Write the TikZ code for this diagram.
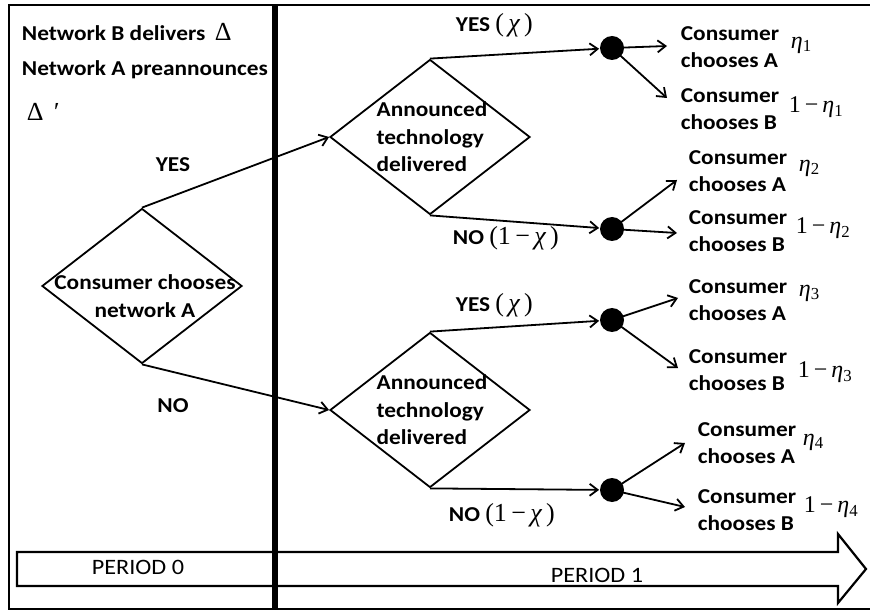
\documentclass[tikz,border=0pt]{standalone}
\usepackage{fontspec}
\setmainfont{Carlito}[FakeStretch=1.1]
\newfontfamily\mathserif{Liberation Serif}
\usetikzlibrary{shapes.geometric,arrows.meta}
\newcommand{\gchi}{{\itshape χ}}
\newcommand{\geta}[1]{{\mathserif\mdseries\itshape η}\textsubscript{\mathserif\mdseries #1}}
\newcommand{\mth}{\mathserif\mdseries\fontsize{26}{26}\selectfont}
\begin{document}
\begin{tikzpicture}[x=1pt,y=-1pt,
 line width=1.8pt,
 dia/.style={draw, diamond, minimum width=200pt, minimum height=155pt, inner sep=0pt, line width=1.8pt},
 dot/.style={circle, fill=black, minimum size=24pt, inner sep=0pt},
 txt/.style={font=\fontsize{21.2}{27.5}\selectfont\bfseries, inner sep=0pt, align=left},
 prob/.style={font=\mathserif\fontsize{24}{26}\selectfont, inner sep=0pt, anchor=west},
 per/.style={font=\fontsize{22}{24}\selectfont, inner sep=0pt},
 arr/.style={-{Straight Barb[length=8pt,width=12pt,line width=1.8pt]}, line width=1.8pt},
]
\useasboundingbox (0,0) rectangle (870,612);
% frame
\draw[line width=2.2pt] (872,5) -- (9,5) -- (9,609) -- (872,609);
% period arrow
\draw[line width=2.2pt, fill=white, line join=miter] (17,552) -- (838,552) -- (838,534) -- (866,569) -- (838,603) -- (838,586) -- (17,586) -- cycle;
\node[per] (p0) at (138,567) {PERIOD 0};
\node[per] (p1l) at (597,575) {PERIOD 1};
% divider
\draw[line width=6pt] (275,5) -- (275,609);
% left texts
\node[txt, anchor=west] (nb) at (21,32) {Network B delivers {\mth\,Δ}};
\node[txt, anchor=west] (na) at (21,70) {Network A preannounces};
\node[txt, anchor=west] (dp) at (26,112) {\mth Δ\,\,\itshape ′};
\node[txt] (yes0) at (173,165) {YES};
\node[txt] (no0) at (173,406) {NO};
% diamonds
\node[dia] (d1) at (142,286) {};
\node[txt, align=center] (d1t) at (145,296) {Consumer chooses\\network A};
\node[dia] (d2) at (430,137) {};
\node[txt] (d2t) at (432,137) {Announced\\technology\\delivered};
\node[dia] (d3) at (430,410) {};
\node[txt] (d3t) at (432,410) {Announced\\technology\\delivered};
\draw[arr] (d1.north) -- (d2.west);
\draw[arr] (d1.south) -- (d3.west);
% branch labels
\node[txt, anchor=west] (y1) at (455,25) {YES {\mth (\,\gchi\,)}};
\node[txt, anchor=west] (n1) at (452,238) {NO {\mth (1\,−\,\gchi\,)}};
\node[txt, anchor=west] (y2) at (455,305) {YES {\mth (\,\gchi\,)}};
\node[txt, anchor=west] (n2) at (448,515) {NO {\mth (1\,−\,\gchi\,)}};
% dots
\node[dot] (q1) at (612,48) {};
\node[dot] (q2) at (612,229) {};
\node[dot] (q3) at (612,320) {};
\node[dot] (q4) at (612,490) {};
\draw[arr] (d2.north) -- (q1);
\draw[arr] (d2.south) -- (q2);
\draw[arr] (d3.north) -- (q3);
\draw[arr] (d3.south) -- (q4);
% tips
\coordinate (t1a) at (667,46);
\coordinate (t1b) at (667,98);
\coordinate (t2a) at (677,180);
\coordinate (t2b) at (677,233);
\coordinate (t3a) at (678,298);
\coordinate (t3b) at (678,368);
\coordinate (t4a) at (685,443);
\coordinate (t4b) at (685,507);
\foreach \q/\a/\b in {q1/t1a/t1b, q2/t2a/t2b, q3/t3a/t3b, q4/t4a/t4b}{
  \draw[arr] (\q.center) -- (\a);
  \draw[arr] (\q.center) -- (\b);
}
% outcome labels
\node[txt, anchor=west] (c1a) at (680,47) {Consumer\\chooses A};
\node[txt, anchor=west] (c1b) at (680,109) {Consumer\\chooses B};
\node[txt, anchor=west] (c2a) at (688,171) {Consumer\\chooses A};
\node[txt, anchor=west] (c2b) at (688,231) {Consumer\\chooses B};
\node[txt, anchor=west] (c3a) at (688,300) {Consumer\\chooses A};
\node[txt, anchor=west] (c3b) at (688,370) {Consumer\\chooses B};
\node[txt, anchor=west] (c4a) at (697,443) {Consumer\\chooses A};
\node[txt, anchor=west] (c4b) at (697,510) {Consumer\\chooses B};
% probabilities
\node[prob] (e1a) at (790,45) {\geta{1}};
\node[prob] (e1b) at (788,107) {1\,−\,\geta{1}};
\node[prob] (e2a) at (798,168) {\geta{2}};
\node[prob] (e2b) at (795,228) {1\,−\,\geta{2}};
\node[prob] (e3a) at (798,293) {\geta{3}};
\node[prob] (e3b) at (797,372) {1\,−\,\geta{3}};
\node[prob] (e4a) at (802,442) {\geta{4}};
\node[prob] (e4b) at (803,507) {1\,−\,\geta{4}};
\end{tikzpicture}
\end{document}
